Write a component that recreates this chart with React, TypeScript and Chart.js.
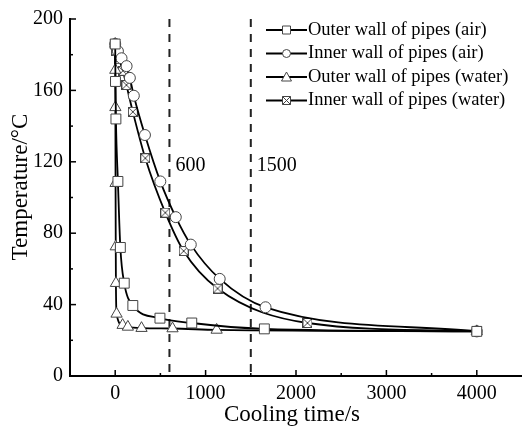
import React, { useEffect, useRef } from 'react';
import { Chart, registerables } from 'chart.js';

Chart.register(...registerables);

// Cooling curves: time (s) and temperature (°C) for each wall / medium
const outerAirTime = [0, 3, 8, 30, 57, 100, 195, 495, 847, 1650, 4000];
const outerAirTemp = [186, 165, 144, 109, 72, 52, 39.5, 32.4, 29.7, 26.4, 25];

const innerAirTime = [0, 30, 70, 126, 162, 206, 329, 499, 670, 836, 1156, 1663, 4000];
const innerAirTemp = [186, 182, 178, 173.6, 167, 157, 135, 109, 89, 73.6, 54.4, 38.5, 25];

const outerWaterTime = [0, 1, 2, 4, 6, 8, 15, 82, 140, 291, 634, 1122, 4000];
const outerWaterTemp = [186, 171.4, 150.5, 108, 72.5, 52, 34.8, 28.5, 27.5, 26.8, 26.6, 25.8, 25];

const innerWaterTime = [0, 8, 41, 85, 124, 195, 333, 554, 757, 1133, 2127, 4000];
const innerWaterTemp = [186, 182, 177.5, 171, 163, 148, 122, 91.5, 70, 49, 29.7, 25];

const seriesLabels = [
  'Outer wall of pipes (air)',
  'Inner wall of pipes (air)',
  'Outer wall of pipes (water)',
  'Inner wall of pipes (water)',
];

const xTickLabels = [0, 1000, 2000, 3000, 4000];
const markerLines = [600, 1500];

const FONT = '"Liberation Serif", "Times New Roman", serif';
const MARK = '#444';

function crossedSquare(size: number): HTMLCanvasElement {
  const c = document.createElement('canvas');
  c.width = size;
  c.height = size;
  const g = c.getContext('2d')!;
  g.fillStyle = '#fff';
  g.fillRect(0.5, 0.5, size - 1, size - 1);
  g.strokeStyle = MARK;
  g.lineWidth = 1;
  g.strokeRect(0.5, 0.5, size - 1, size - 1);
  g.beginPath();
  g.moveTo(1, 1);
  g.lineTo(size - 1, size - 1);
  g.moveTo(size - 1, 1);
  g.lineTo(1, size - 1);
  g.stroke();
  return c;
}

function drawLegendMarker(ctx: CanvasRenderingContext2D, kind: number, x: number, y: number) {
  const r = 4;
  ctx.save();
  ctx.fillStyle = '#fff';
  ctx.strokeStyle = MARK;
  ctx.lineWidth = 1;
  ctx.beginPath();
  if (kind === 0 || kind === 3) {
    ctx.rect(x - r, y - r, 2 * r, 2 * r);
  } else if (kind === 1) {
    ctx.arc(x, y, r, 0, Math.PI * 2);
  } else {
    ctx.moveTo(x, y - r - 1);
    ctx.lineTo(x + r + 1, y + r);
    ctx.lineTo(x - r - 1, y + r);
    ctx.closePath();
  }
  ctx.fill();
  ctx.stroke();
  if (kind === 3) {
    ctx.beginPath();
    ctx.moveTo(x - r, y - r);
    ctx.lineTo(x + r, y + r);
    ctx.moveTo(x + r, y - r);
    ctx.lineTo(x - r, y + r);
    ctx.stroke();
  }
  ctx.restore();
}

const decorations = {
  id: 'decorations',
  beforeDatasetsDraw(chart: any) {
    const { ctx, chartArea, scales } = chart;
    ctx.save();
    ctx.strokeStyle = '#222';
    ctx.lineWidth = 2;
    ctx.setLineDash([8, 7]);
    for (const v of markerLines) {
      const px = scales.x.getPixelForValue(v);
      ctx.beginPath();
      ctx.moveTo(px, chartArea.top);
      ctx.lineTo(px, chartArea.bottom);
      ctx.stroke();
    }
    ctx.setLineDash([]);
    ctx.fillStyle = '#000';
    ctx.font = `20px ${FONT}`;
    ctx.textAlign = 'left';
    ctx.textBaseline = 'middle';
    const ly = scales.y.getPixelForValue(118);
    for (const v of markerLines) {
      ctx.fillText(String(v), scales.x.getPixelForValue(v) + 6, ly);
    }
    ctx.restore();
  },
  afterDraw(chart: any) {
    const { ctx, chartArea, scales } = chart;
    const xs = scales.x;
    const ys = scales.y;
    ctx.save();
    ctx.strokeStyle = '#000';
    ctx.lineWidth = 1.5;
    // inward tick marks, major and minor
    for (let v = 0; v <= 4000; v += 500) {
      const px = xs.getPixelForValue(v);
      const len = v % 1000 === 0 ? 6 : 3;
      ctx.beginPath();
      ctx.moveTo(px, chartArea.bottom);
      ctx.lineTo(px, chartArea.bottom - len);
      ctx.stroke();
    }
    for (let v = 20; v <= 200; v += 20) {
      const py = ys.getPixelForValue(v);
      const len = v % 40 === 0 ? 6 : 3;
      ctx.beginPath();
      ctx.moveTo(chartArea.left, py);
      ctx.lineTo(chartArea.left + len, py);
      ctx.stroke();
    }

    // axis titles
    ctx.fillStyle = '#000';
    ctx.font = `23px ${FONT}`;
    ctx.textAlign = 'center';
    ctx.textBaseline = 'middle';
    ctx.fillText('Cooling time/s', 292, 415);
    ctx.save();
    ctx.translate(21, 187);
    ctx.rotate(-Math.PI / 2);
    ctx.fillText('Temperature/°C', 0, 0);
    ctx.restore();

    // legend
    ctx.font = `18.5px ${FONT}`;
    ctx.textAlign = 'left';
    for (let i = 0; i < seriesLabels.length; i++) {
      const y = 30 + i * 23.5;
      ctx.strokeStyle = '#000';
      ctx.lineWidth = 2;
      ctx.beginPath();
      ctx.moveTo(266, y);
      ctx.lineTo(307, y);
      ctx.stroke();
      drawLegendMarker(ctx, i, 286.5, y);
      ctx.fillStyle = '#000';
      ctx.fillText(seriesLabels[i], 308, y);
    }
    ctx.restore();
  },
};

export default function App() {
  const ref = useRef<HTMLCanvasElement>(null);

  useEffect(() => {
    if (!ref.current) return;
    const pts = (t: number[], v: number[]) => t.map((x, i) => ({ x, y: v[i] }));
    const common = {
      borderColor: '#000',
      borderWidth: 1.8,
      pointBackgroundColor: '#fff',
      pointBorderColor: MARK,
      pointBorderWidth: 1,
      fill: false,
      cubicInterpolationMode: 'monotone' as const,
    };
    const chart = new Chart(ref.current, {
      type: 'line',
      data: {
        datasets: [
          { ...common, label: seriesLabels[0], data: pts(outerAirTime, outerAirTemp), pointStyle: 'rect', pointRadius: 7 },
          { ...common, label: seriesLabels[1], data: pts(innerAirTime, innerAirTemp), pointStyle: 'circle', pointRadius: 5.5 },
          { ...common, label: seriesLabels[2], data: pts(outerWaterTime, outerWaterTemp), pointStyle: 'triangle', pointRadius: 6.5 },
          { ...common, label: seriesLabels[3], data: pts(innerWaterTime, innerWaterTemp), pointStyle: crossedSquare(10), pointRadius: 5 },
        ],
      },
      options: {
        responsive: false,
        animation: false,
        devicePixelRatio: 1,
        layout: { padding: { top: 12, right: 7, left: 0, bottom: 0 } },
        plugins: { legend: { display: false }, tooltip: { enabled: false } },
        scales: {
          x: {
            type: 'linear',
            min: -500,
            max: 4500,
            grid: { display: false, drawTicks: false },
            border: { display: true, color: '#000', width: 2 },
            ticks: {
              stepSize: 500,
              padding: 6,
              color: '#000',
              autoSkip: false,
              maxRotation: 0,
              font: { family: FONT, size: 20 },
              callback: (v: any) => (xTickLabels.includes(Number(v)) ? String(v) : ''),
            },
            afterFit: (s: any) => {
              s.height = 63;
            },
          },
          y: {
            min: 0,
            max: 200,
            grid: { display: false, drawTicks: false },
            border: { display: true, color: '#000', width: 2 },
            ticks: {
              stepSize: 40,
              padding: 7,
              color: '#000',
              font: { family: FONT, size: 20 },
            },
            afterFit: (s: any) => {
              s.width = 70;
            },
          },
        },
      },
      plugins: [decorations],
    });
    return () => chart.destroy();
  }, []);

  return (
    <div style={{ position: 'fixed', left: 0, top: 0, width: 522, height: 439, overflow: 'hidden', background: '#fff' }}>
      <canvas ref={ref} width={530} height={439} style={{ width: 530, height: 439, display: 'block' }} />
    </div>
  );
}
